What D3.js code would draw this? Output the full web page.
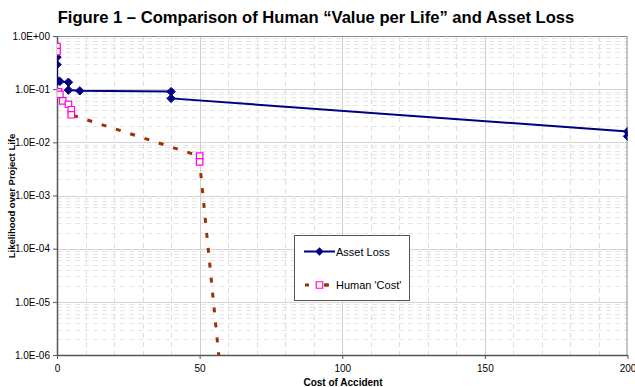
<!DOCTYPE html>
<html>
<head>
<meta charset="utf-8">
<script src="https://cdn.jsdelivr.net/npm/d3@7"></script>
<style>
  html, body { margin: 0; padding: 0; background: #fff; }
  svg { display: block; font-family: Arial, "Liberation Sans", sans-serif; }
</style>
</head>
<body>
<svg id="chart" width="635" height="387"></svg>
<script>
// ---- data ----
const titleText = "Figure 1 \u2013 Comparison of Human \u201CValue per Life\u201D and Asset Loss";
const xLabel = "Cost of Accident";
const yLabel = "Likelihood over Project Life";

const assetX = [0, 0, 0, 1, 4, 4, 8, 40, 40, 200, 200];
const assetY = [0.40, 0.29, 0.14, 0.14, 0.135, 0.096, 0.093, 0.090, 0.067, 0.016, 0.013];

const humanX = [0, 0, 0.5, 1, 2, 4, 5, 5, 50, 50, 60];
const humanY = [0.63, 0.51, 0.089, 0.080, 0.060, 0.052, 0.041, 0.033, 0.0055, 0.0043, 1.6e-8];

const xTicks = [0, 50, 100, 150, 200];
const yTicks = [1, 0.1, 0.01, 0.001, 0.0001, 0.00001, 0.000001];
const yTickLabels = ["1.0E+00", "1.0E-01", "1.0E-02", "1.0E-03", "1.0E-04", "1.0E-05", "1.0E-06"];
const seriesNames = ["Asset Loss", "Human 'Cost'"];

// ---- layout ----
const svg = d3.select("#chart");
const L = 57, R = 627.5, T = 36, B = 355;

const x = d3.scaleLinear().domain([0, 200]).range([L, R]);
const y = d3.scaleLog().domain([1e-6, 1]).range([B, T]);

svg.append("defs").append("clipPath").attr("id", "clip")
  .append("rect").attr("x", L).attr("y", T).attr("width", R - L).attr("height", B - T);

// minor grid (vertical every 10)
const gGrid = svg.append("g");
d3.range(10, 200, 10).filter(v => v % 50 !== 0).forEach(v => {
  gGrid.append("line")
    .attr("x1", Math.round(x(v)) + 0.5).attr("x2", Math.round(x(v)) + 0.5).attr("y1", T).attr("y2", B)
    .attr("stroke", "#dedede").attr("stroke-width", 1).attr("stroke-dasharray", "5,4");
});
// minor grid horizontal
yTicks.slice(1).forEach(d => {
  for (let k = 2; k <= 9; k++) {
    const v = d * k;
    if (v >= 1) continue;
    gGrid.append("line")
      .attr("x1", L).attr("x2", R).attr("y1", Math.round(y(v)) + 0.5).attr("y2", Math.round(y(v)) + 0.5)
      .attr("stroke", "#e6e6e6").attr("stroke-width", 1).attr("stroke-dasharray", "5,4");
  }
});
// major grid
xTicks.slice(1, -1).forEach(v => {
  gGrid.append("line")
    .attr("x1", Math.round(x(v)) + 0.5).attr("x2", Math.round(x(v)) + 0.5).attr("y1", T).attr("y2", B)
    .attr("stroke", "#cfcfcf").attr("stroke-width", 1);
});
yTicks.slice(1, -1).forEach(v => {
  gGrid.append("line")
    .attr("x1", L).attr("x2", R).attr("y1", Math.round(y(v)) + 0.5).attr("y2", Math.round(y(v)) + 0.5)
    .attr("stroke", "#d4d4d4").attr("stroke-width", 1);
});

// plot border
svg.append("rect").attr("x", L + 0.5).attr("y", T + 0.5).attr("width", R - L - 1).attr("height", B - T)
  .attr("fill", "none").attr("stroke", "#8c8c8c").attr("stroke-width", 1);

// axes
const xAxis = d3.axisBottom(x).tickValues(xTicks).tickSize(4).tickSizeOuter(0).tickPadding(6);
const gx = svg.append("g").attr("transform", `translate(0,${B})`).call(xAxis);
gx.select(".domain").attr("stroke", "#555").attr("stroke-width", 1.5);
gx.selectAll(".tick line").attr("stroke", "#555");
gx.selectAll("text").attr("font-size", 10).attr("fill", "#000").attr("font-family", "Arial, 'Liberation Sans', sans-serif");

const yAxis = d3.axisLeft(y).tickValues(yTicks).tickFormat((d, i) => yTickLabels[i]).tickSize(4).tickSizeOuter(0).tickPadding(3);
const gy = svg.append("g").attr("transform", `translate(${L},0)`).call(yAxis);
gy.select(".domain").attr("stroke", "#555").attr("stroke-width", 1.5);
gy.selectAll(".tick line").attr("stroke", "#555");
gy.selectAll("text").attr("font-size", 10).attr("fill", "#000").attr("font-family", "Arial, 'Liberation Sans', sans-serif");

// series
const assetData = assetX.map((v, i) => [v, assetY[i]]);
const humanData = humanX.map((v, i) => [v, humanY[i]]);
const line = d3.line().x(d => x(d[0])).y(d => y(d[1]));

const gData = svg.append("g").attr("clip-path", "url(#clip)");

gData.append("path").datum(humanData).attr("d", line)
  .attr("fill", "none").attr("stroke", "#993300").attr("stroke-width", 3)
  .attr("stroke-dasharray", "5,10");

gData.append("path").datum(assetData).attr("d", line)
  .attr("fill", "none").attr("stroke", "#000080").attr("stroke-width", 2);

const diamond = d3.symbol().type(d3.symbolDiamond2).size(45);
const square = d3.symbol().type(d3.symbolSquare).size(42);

gData.selectAll(".dia").data(assetData).enter().append("path")
  .attr("transform", d => `translate(${x(d[0])},${y(d[1])})`)
  .attr("d", diamond).attr("fill", "#000080").attr("stroke", "#000080").attr("stroke-width", 1);

gData.selectAll(".sq").data(humanData).enter().append("path")
  .attr("transform", d => `translate(${x(d[0])},${y(d[1])})`)
  .attr("d", square).attr("fill", "#ffffcc").attr("stroke", "#ff00ff").attr("stroke-width", 1.2);

// legend
const lg = svg.append("g");
lg.append("rect").attr("x", 294.5).attr("y", 235.5).attr("width", 115).attr("height", 65)
  .attr("fill", "#fff").attr("stroke", "#555").attr("stroke-width", 1);
lg.append("line").attr("x1", 304).attr("x2", 335).attr("y1", 251.5).attr("y2", 251.5)
  .attr("stroke", "#000080").attr("stroke-width", 2);
lg.append("path").attr("transform", "translate(319.5,251.5)").attr("d", diamond).attr("fill", "#000080");
lg.append("text").attr("x", 336).attr("y", 255.5).attr("font-size", 11).text(seriesNames[0]);
lg.append("line").attr("x1", 305).attr("x2", 330).attr("y1", 285).attr("y2", 285)
  .attr("stroke", "#993300").attr("stroke-width", 3).attr("stroke-dasharray", "4,16");
lg.append("path").attr("transform", "translate(319.5,285)").attr("d", square)
  .attr("fill", "#ffffcc").attr("stroke", "#ff00ff").attr("stroke-width", 1.2);
lg.append("line").attr("x1", 324).attr("x2", 328).attr("y1", 285).attr("y2", 285)
  .attr("stroke", "#993300").attr("stroke-width", 3);
lg.append("text").attr("x", 336).attr("y", 289).attr("font-size", 11).text(seriesNames[1]);

// title
svg.append("text").attr("x", 316).attr("y", 23).attr("text-anchor", "middle")
  .attr("font-size", 16.6).attr("font-weight", "bold").text(titleText);

// axis titles
svg.append("text").attr("transform", "translate(15,196) rotate(-90)").attr("text-anchor", "middle")
  .attr("font-size", 9.5).attr("font-weight", "bold").text(yLabel);
svg.append("text").attr("x", 343).attr("y", 386).attr("text-anchor", "middle")
  .attr("font-size", 10).attr("font-weight", "bold").text(xLabel);
</script>
</body>
</html>
